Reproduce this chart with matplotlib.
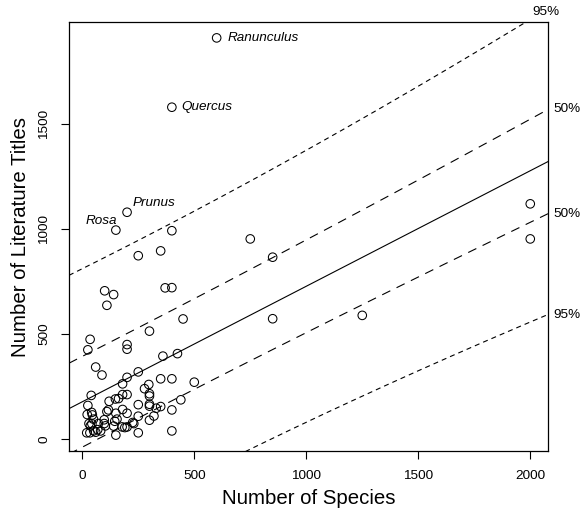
import numpy as np
import matplotlib
matplotlib.use("Agg")
import matplotlib.pyplot as plt

plt.rcParams['font.family'] = ['Liberation Sans', 'DejaVu Sans']
plt.rcParams['lines.scale_dashes'] = False

# ---- data ----
species = [600, 400, 200, 150, 400, 750, 850, 250, 350, 100, 140, 110, 370, 400,
           2000, 2000, 850, 1250, 450, 300, 35, 25, 200, 200, 360, 425, 60, 88,
           250, 200, 350, 400, 500, 180, 297, 40, 278, 300, 300, 200, 180, 162,
           148, 120, 440, 250, 300, 300, 350, 330, 400, 25, 110, 117, 180, 200,
           22, 42, 45, 150, 250, 50, 98, 300, 145, 230, 30, 43, 72, 98, 140,
           178, 200, 20, 34, 60, 82, 250, 400, 150,
           36, 103, 155, 51, 69, 225, 320, 190]
titles = [1910, 1580, 1080, 995, 992, 953, 866, 873, 896, 706, 688, 637, 720, 721,
          1120, 953, 573, 589, 572, 514, 475, 425, 450, 428, 395, 407, 343, 305,
          320, 294, 287, 287, 271, 263, 260, 208, 240, 216, 205, 212, 212, 193,
          191, 180, 187, 164, 166, 157, 155, 147, 139, 160, 131, 139, 141, 123,
          117, 127, 115, 123, 109, 95, 92, 90, 85, 74, 74, 73, 74, 74, 62,
          58, 58, 30, 30, 33, 39, 30, 39, 19,
          63, 63, 95, 39, 45, 79, 110, 55]
named_genera = ["Ranunculus", "Quercus", "Prunus", "Rosa"]
named_index = [0, 1, 2, 3]
interval_levels = ["50%", "95%"]
t_quantiles = [0.678, 1.989]  # t quantiles for 50% and 95% prediction bands

x = np.asarray(species, float)
y = np.asarray(titles, float)
n = len(x)

# ---- ordinary least squares fit and prediction intervals ----
slope, intercept = np.polyfit(x, y, 1)
resid = y - (intercept + slope * x)
s = np.sqrt(np.sum(resid ** 2) / (n - 2))
xbar = x.mean()
sxx = np.sum((x - xbar) ** 2)

fig = plt.figure(figsize=(5.81, 5.20), dpi=100)
ax = fig.add_axes([69 / 581, 1 - 451 / 520, 479 / 581, 429 / 520])

xr = x.max() - x.min()
yr = y.max() - y.min()
xlim = (x.min() - 0.04 * xr, x.max() + 0.04 * xr)
ylim = (y.min() - 0.04 * yr, y.max() + 0.04 * yr)

xs = np.linspace(xlim[0], xlim[1], 400)
fit = intercept + slope * xs
se = s * np.sqrt(1 + 1 / n + (xs - xbar) ** 2 / sxx)

ax.plot(xs, fit, color='black', lw=0.8)
dash_styles = {"50%": (0, (6.5, 5)), "95%": (0, (3.6, 2.9))}
for lev, tq in zip(interval_levels, t_quantiles):
    for sign in (1, -1):
        band = fit + sign * tq * se
        ax.plot(xs, band, color='black', lw=0.8, linestyle=dash_styles[lev])
        # label at the right end, or at the top if the band leaves the box
        if band[-1] <= ylim[1]:
            ax.annotate(lev, xy=(xlim[1], band[-1]), xytext=(4, 0),
                        textcoords='offset points', ha='left', va='center',
                        fontsize=9.7, annotation_clip=False)
        else:
            k = np.argmax(band > ylim[1])
            ax.annotate(lev, xy=(xs[k], ylim[1]), xytext=(4, 3),
                        textcoords='offset points', ha='left', va='bottom',
                        fontsize=9.7, annotation_clip=False)

ax.scatter(x, y, s=38, facecolors='none', edgecolors='black', linewidths=0.75,
           zorder=3)

offsets = {"Ranunculus": ((8, 0), 'left', 'center'),
           "Quercus": ((7, 0), 'left', 'center'),
           "Prunus": ((4, 2.5), 'left', 'bottom'),
           "Rosa": ((1, 2.5), 'right', 'bottom')}
for name, i in zip(named_genera, named_index):
    off, ha, va = offsets[name]
    ax.annotate(name, xy=(x[i], y[i]), xytext=off, textcoords='offset points',
                ha=ha, va=va, fontsize=9.7, style='italic')

ax.set_xlim(xlim)
ax.set_ylim(ylim)
ax.set_xticks([0, 500, 1000, 1500, 2000])
ax.set_yticks([0, 500, 1000, 1500])
ax.tick_params(direction='out', length=5.5, width=0.8, labelsize=9.7, pad=8)
for lab in ax.get_yticklabels():
    lab.set_rotation(90)
    lab.set_va('center')
for sp in ax.spines.values():
    sp.set_linewidth(0.9)
ax.set_xlabel("Number of Species", fontsize=14.7, labelpad=5)
ax.set_ylabel("Number of Literature Titles", fontsize=14.7, labelpad=6)

fig.savefig("out.png", dpi=100)
